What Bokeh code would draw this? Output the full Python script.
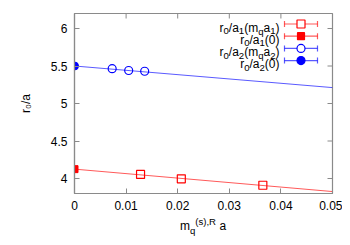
import math
from bokeh.plotting import figure
from bokeh.layouts import column
from bokeh.models import Label, Range1d, FixedTicker, Div
from bokeh.embed import file_html
from bokeh.resources import INLINE

# ---------------- data ----------------
red_open_x = [0.0128, 0.0207, 0.0365]
red_open_y = [4.054, 3.996, 3.910]
red_zero_x = [0.0]
red_zero_y = [4.125]
blue_open_x = [0.0073, 0.0105, 0.0136]
blue_open_y = [5.464, 5.440, 5.430]
blue_zero_x = [0.0]
blue_zero_y = [5.500]
red_fit_x = [0.0, 0.05]
red_fit_y = [4.125, 3.826]
blue_fit_x = [0.0, 0.05]
blue_fit_y = [5.500, 5.212]

x_ticks = [0, 0.01, 0.02, 0.03, 0.04, 0.05]
x_tick_labels = ["0", "0.01", "0.02", "0.03", "0.04", "0.05"]
y_ticks = [4, 4.5, 5, 5.5, 6]
y_tick_labels = ["4", "4.5", "5", "5.5", "6"]

legend_labels = [
    [("r", 0), ("0", -1), ("/a", 0), ("1", -1), ("(m", 0), ("q", -1), ("a", 0), ("1", -1), (")", 0)],
    [("r", 0), ("0", -1), ("/a", 0), ("1", -1), ("(0)", 0)],
    [("r", 0), ("0", -1), ("/a", 0), ("2", -1), ("(m", 0), ("q", -1), ("a", 0), ("2", -1), (")", 0)],
    [("r", 0), ("0", -1), ("/a", 0), ("2", -1), ("(0)", 0)],
]
y_axis_label = "r\u2080/a"

RED = "#ff0000"
BLUE = "#0000ff"
FONT = "Liberation Sans"
FS = 12
AXC = "#8a8a8a"

# ---------------- layout ----------------
X0, X1 = 0.0, 0.05
Y0, Y1 = 3.8, 6.2
WID, HEI = 342, 218
BL, BR, BT, BB = 74, 10, 13, 25
FW, FH = WID - BL - BR, HEI - BT - BB

p = figure(width=WID, height=HEI,
           x_range=Range1d(X0, X1), y_range=Range1d(Y0, Y1),
           output_backend="svg", toolbar_location=None,
           min_border_left=BL, min_border_right=BR, min_border_top=BT, min_border_bottom=BB)
p.margin = (0, 0, 0, 0)
p.xgrid.visible = False
p.ygrid.visible = False
p.outline_line_color = AXC
p.outline_line_width = 1.2
p.background_fill_color = "white"
p.border_fill_color = "white"


def style_axis(ax, ticks, labels, standoff):
    ax.ticker = FixedTicker(ticks=ticks)
    ax.major_label_overrides = {t: l for t, l in zip(ticks, labels)}
    ax.major_tick_in = 5
    ax.major_tick_out = 0
    ax.minor_tick_in = 0
    ax.minor_tick_out = 0
    ax.major_tick_line_color = AXC
    ax.axis_line_color = AXC
    ax.axis_line_width = 1.2
    ax.major_label_text_font = FONT
    ax.major_label_text_font_size = f"{FS}px"
    ax.major_label_text_color = "black"
    ax.major_label_standoff = standoff


style_axis(p.xaxis[0], x_ticks, x_tick_labels, 7)
style_axis(p.yaxis[0], y_ticks, y_tick_labels, 7)
p.yaxis[0].axis_label = y_axis_label
p.yaxis[0].axis_label_text_font = FONT
p.yaxis[0].axis_label_text_font_size = f"{FS}px"
p.yaxis[0].axis_label_text_font_style = "normal"
p.yaxis[0].axis_label_text_color = "black"
p.yaxis[0].axis_label_standoff = 15

# mirrored inward ticks on top and right edges (half of each dash is clipped by the frame)
p.scatter(x_ticks, [Y1] * len(x_ticks), marker="dash", angle=math.pi / 2, size=10,
          line_color=AXC, line_width=1)
p.scatter([X1] * len(y_ticks), y_ticks, marker="dash", size=10,
          line_color=AXC, line_width=1)


# canvas pixel helpers for legend placement
def px2x(px):
    return X0 + (px - BL) / FW * (X1 - X0)


def py2y(py):
    return Y0 + (BT + FH - py) / FH * (Y1 - Y0)


W = {'r': .333, '/': .278, 'a': .556, '(': .333, ')': .333, 'm': .833, 'q': .556,
     's': .5, ',': .278, 'R': .722, ' ': .278}


def tw(s, size):
    return sum(W.get(c, .556) for c in s) * size


def rich(x, y, pieces, size=FS, align="left"):
    sub = size * 0.8
    widths = [tw(t, size if lvl == 0 else sub) for t, lvl in pieces]
    total = sum(widths)
    pos = {"left": 0.0, "center": -total / 2, "right": -total}[align]
    for (t, lvl), w in zip(pieces, widths):
        shift = {0: 0.0, -1: -0.3 * size, 1: 0.45 * size}[lvl]
        p.add_layout(Label(x=x, y=y, x_offset=pos, y_offset=shift, text=t,
                           text_align="left", text_baseline="alphabetic",
                           text_font=FONT, text_font_size=f"{size if lvl == 0 else sub:.1f}px",
                           text_color="black"))
        pos += w


# ---------------- data marks ----------------
p.line(red_fit_x, red_fit_y, line_color=RED, line_alpha=0.65, line_width=1)
p.line(blue_fit_x, blue_fit_y, line_color=BLUE, line_alpha=0.65, line_width=1)
p.scatter(red_open_x, red_open_y, marker="square", size=8, fill_color=None,
          line_color=RED, line_width=1.2)
p.scatter(red_zero_x, red_zero_y, marker="square", size=7, fill_color=RED,
          line_color=RED)
p.scatter(blue_open_x, blue_open_y, marker="circle", size=8, fill_color=None,
          line_color=BLUE, line_width=1.2)
p.scatter(blue_zero_x, blue_zero_y, marker="circle", size=8, fill_color=BLUE,
          line_color=BLUE)

# ---------------- legend ----------------
rows_py = [23.5, 35.7, 47.9, 60.1]
styles = [(RED, "square", False), (RED, "square", True), (BLUE, "circle", False), (BLUE, "circle", True)]
lx0, lx1, lxm = px2x(284), px2x(317), px2x(300.5)
for pieces, ry, (col, mk, filled) in zip(legend_labels, rows_py, styles):
    yy = py2y(ry)
    p.segment(x0=[lx0], y0=[yy], x1=[lx1], y1=[yy], line_color=col, line_alpha=0.65, line_width=1.2)
    p.scatter([lx0, lx1], [yy, yy], marker="dash", angle=math.pi / 2, size=6,
              line_color=col, line_alpha=0.65, line_width=1.2)
    p.scatter([lxm], [yy], marker=mk, size=8 if not filled else (7 if mk == "square" else 8),
              fill_color=col if filled else "white", line_color=col, line_width=1.2)
    rich(px2x(279), py2y(ry + 3.5), pieces, align="right")

# ---------------- x axis label (HTML, real text with sub/superscripts) ----------------
xlab_html = (
    '<div style="width:342px;height:19px;padding-left:64px;box-sizing:border-box;'
    'text-align:center;font-family:\'Liberation Sans\';font-size:12px;line-height:12px;'
    'white-space:nowrap;color:black;">'
    'm<span style="font-size:9.6px;position:relative;top:3.5px;">q</span>'
    '<span style="font-size:9.6px;position:relative;top:-5.5px;">(s),R</span> a</div>'
)
xlab = Div(text=xlab_html, width=WID, height=19, margin=(0, 0, 0, 0))

layout = column(p, xlab, spacing=0, margin=(0, 0, 0, 0))

open("out.html", "w").write(file_html(layout, INLINE))
